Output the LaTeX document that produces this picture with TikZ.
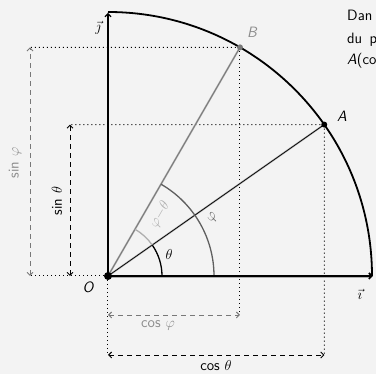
\documentclass[tikz,border=0pt]{standalone}
\usepackage{fontspec}
\usetikzlibrary{arrows.meta}
\definecolor{bg}{RGB}{243,243,243}
\definecolor{midg}{RGB}{120,120,120}
\definecolor{lightg}{RGB}{175,175,175}
\definecolor{darkg}{RGB}{95,95,95}
\definecolor{labg}{RGB}{140,140,140}
\begin{document}
\begin{tikzpicture}[x=1pt,y=1pt,
  font=\sffamily\fontsize{15}{18}\selectfont,
  barb/.tip={Straight Barb[length=3pt,width=6pt]},
  dimarrow/.style={dash pattern=on 5pt off 4pt, barb-barb, line width=0.9pt},
  guide/.style={dash pattern=on 1pt off 3pt, line width=1pt},
  lbl/.style={inner sep=0pt},
  dotn/.style={circle, fill, inner sep=0pt, minimum size=#1}]
\fill[bg] (-108,-98) rectangle (268,276);
\useasboundingbox (-108,-98) rectangle (268,276);
% points
\coordinate (O) at (0,0);
\coordinate (A) at (35:264);
\coordinate (B) at (60:264);
\coordinate (I) at (265,0);
\coordinate (J) at (0,263);
\coordinate (Iend) at (264,0);
% guide endpoints
\coordinate (sphiT) at (-78,228.6);
\coordinate (sphiB) at (-78,0);
\coordinate (sthT) at (-38,151.4);
\coordinate (sthB) at (-38,0);
\coordinate (cphiL) at (0,-39);
\coordinate (cphiR) at (132,-39);
\coordinate (cthL) at (0,-79);
\coordinate (cthR) at (216.3,-79);
% dotted guides
\draw[guide] (B) -- (sphiT);
\draw[guide] (A) -- (sthT);
\draw[guide] (B) -- (cphiR);
\draw[guide] (A) -- (cthR);
\draw[guide] (O) -- (sphiB);
\draw[guide] (O) -- (cthL);
% dimension arrows
\draw[dimarrow, midg] (sphiB) -- (sphiT);
\draw[dimarrow, black] (sthB) -- (sthT);
\draw[dimarrow, midg] (cphiL) -- (cphiR);
\draw[dimarrow, black] (cthL) -- (cthR);
% rays
\draw[lightg, line width=1.8pt] (O) -- (B);
\draw[midg, line width=0.8pt] (O) -- (B);
\draw[lightg, line width=1.8pt] (O) -- (A);
\draw[black, line width=0.7pt] (O) -- (A);
% angle arcs
\draw[black, line width=1.3pt] (54,0) arc[start angle=0, end angle=35, radius=54];
\draw[lightg, line width=1.3pt] (35:54) arc[start angle=35, end angle=60, radius=54];
\draw[darkg, line width=1.3pt] (106,0) arc[start angle=0, end angle=60, radius=106];
% axes
\draw[lightg, line width=1.2pt] (0,-1.6) -- (263,-1.6);
\draw[line width=1.6pt, -barb] (O) -- (I);
\draw[line width=1.1pt, -barb] (O) -- (J);
% unit arc
\draw[line width=1.8pt] (Iend) arc[start angle=0, end angle=90, radius=264];
% dots
\node[dotn=8pt] (Od) at (O) {};
\node[dotn=6pt] (Ad) at (A) {};
\node[dotn=6pt, midg] (Bd) at (B) {};
% labels
\node[lbl] (Ol) at (-20,-11) {\itshape O};
\node[lbl] (Al) at (234,160) {\itshape A};
\node[lbl, labg] (Bl) at (144,244) {\itshape B};
\node[lbl] (jl) at (-10,248) {$\vec{\jmath}$};
\node[lbl] (il) at (252,-18) {$\vec{\imath}$};
\node[lbl] (thl) at (61,21) {$\theta$};
\node[lbl, darkg, rotate=60] (phl) at (105,58) {$\varphi$};
\node[lbl, lightg, rotate=60] (pthl) at (52,61) {$\varphi{-}\theta$};
\node[lbl, labg, rotate=90] (sphl) at (-93,113) {sin $\varphi$};
\node[lbl, rotate=90] (sthl) at (-51,75) {sin $\theta$};
\node[lbl, labg] (cphl) at (50,-49) {cos $\varphi$};
\node[lbl] (cthl) at (108,-90) {cos $\theta$};
% clipped paragraph fragments
\node[lbl, anchor=base west] (t1) at (239,255) {Dan};
\node[lbl, anchor=base west] (t2) at (239,232) {du\hspace{0.5em}p};
\node[lbl, anchor=base west] (t3) at (239,211) {\itshape A\upshape(co};
\end{tikzpicture}
\end{document}
